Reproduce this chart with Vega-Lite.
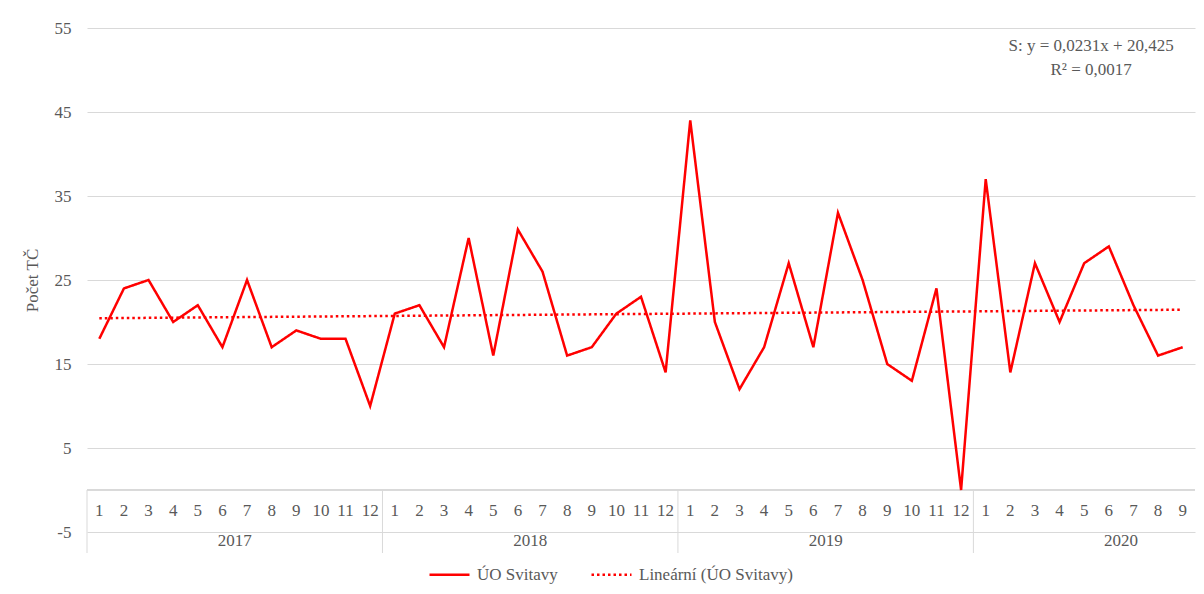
{
  "$schema": "https://vega.github.io/schema/vega-lite/v6.json",
  "width": 1108,
  "height": 504,
  "autosize": "none",
  "padding": {"left": 87, "top": 28, "right": 9, "bottom": 62},
  "background": "white",
  "config": {"view": {"stroke": null}, "font": "Liberation Serif",
    "text": {"font": "Liberation Serif"},
    "legend": {"labelFont": "Liberation Serif", "titleFont": "Liberation Serif"},
    "axis": {"labelFont": "Liberation Serif", "titleFont": "Liberation Serif"}},
  "data": {"values": [
    {"i": 1, "year": "2017", "month": "1", "value": 18},
    {"i": 2, "year": "2017", "month": "2", "value": 24},
    {"i": 3, "year": "2017", "month": "3", "value": 25},
    {"i": 4, "year": "2017", "month": "4", "value": 20},
    {"i": 5, "year": "2017", "month": "5", "value": 22},
    {"i": 6, "year": "2017", "month": "6", "value": 17},
    {"i": 7, "year": "2017", "month": "7", "value": 25},
    {"i": 8, "year": "2017", "month": "8", "value": 17},
    {"i": 9, "year": "2017", "month": "9", "value": 19},
    {"i": 10, "year": "2017", "month": "10", "value": 18},
    {"i": 11, "year": "2017", "month": "11", "value": 18},
    {"i": 12, "year": "2017", "month": "12", "value": 10},
    {"i": 13, "year": "2018", "month": "1", "value": 21},
    {"i": 14, "year": "2018", "month": "2", "value": 22},
    {"i": 15, "year": "2018", "month": "3", "value": 17},
    {"i": 16, "year": "2018", "month": "4", "value": 30},
    {"i": 17, "year": "2018", "month": "5", "value": 16},
    {"i": 18, "year": "2018", "month": "6", "value": 31},
    {"i": 19, "year": "2018", "month": "7", "value": 26},
    {"i": 20, "year": "2018", "month": "8", "value": 16},
    {"i": 21, "year": "2018", "month": "9", "value": 17},
    {"i": 22, "year": "2018", "month": "10", "value": 21},
    {"i": 23, "year": "2018", "month": "11", "value": 23},
    {"i": 24, "year": "2018", "month": "12", "value": 14},
    {"i": 25, "year": "2019", "month": "1", "value": 44},
    {"i": 26, "year": "2019", "month": "2", "value": 20},
    {"i": 27, "year": "2019", "month": "3", "value": 12},
    {"i": 28, "year": "2019", "month": "4", "value": 17},
    {"i": 29, "year": "2019", "month": "5", "value": 27},
    {"i": 30, "year": "2019", "month": "6", "value": 17},
    {"i": 31, "year": "2019", "month": "7", "value": 33},
    {"i": 32, "year": "2019", "month": "8", "value": 25},
    {"i": 33, "year": "2019", "month": "9", "value": 15},
    {"i": 34, "year": "2019", "month": "10", "value": 13},
    {"i": 35, "year": "2019", "month": "11", "value": 24},
    {"i": 36, "year": "2019", "month": "12", "value": 0},
    {"i": 37, "year": "2020", "month": "1", "value": 37},
    {"i": 38, "year": "2020", "month": "2", "value": 14},
    {"i": 39, "year": "2020", "month": "3", "value": 27},
    {"i": 40, "year": "2020", "month": "4", "value": 20},
    {"i": 41, "year": "2020", "month": "5", "value": 27},
    {"i": 42, "year": "2020", "month": "6", "value": 29},
    {"i": 43, "year": "2020", "month": "7", "value": 22},
    {"i": 44, "year": "2020", "month": "8", "value": 16},
    {"i": 45, "year": "2020", "month": "9", "value": 17}
  ]},
  "layer": [
    {
      "mark": {"type": "rule", "color": "#d9d9d9", "strokeWidth": 1},
      "encoding": {"y": {"datum": 0, "type": "quantitative", "scale": {"domain": [-5, 55], "nice": false, "zero": false}}}
    },
    {
      "transform": [{"aggregate": [{"op": "min", "field": "i", "as": "first"}], "groupby": ["year"]}],
      "mark": {"type": "rule", "color": "#d9d9d9", "strokeWidth": 1, "xOffset": -12.31, "clip": false},
      "encoding": {
        "x": {"field": "first", "type": "quantitative", "axis": null, "scale": {"domain": [0.5, 45.5], "nice": false, "zero": false}},
        "y": {"datum": 0, "type": "quantitative"},
        "y2": {"datum": -7.5}
      }
    },
    {
      "mark": {"type": "text", "fontSize": 17, "font": "Liberation Serif", "color": "#595959", "baseline": "middle", "align": "center"},
      "encoding": {
        "x": {"field": "i", "type": "quantitative", "axis": null},
        "y": {"datum": -2.5, "type": "quantitative"},
        "text": {"field": "month", "type": "nominal"}
      }
    },
    {
      "transform": [{"aggregate": [{"op": "min", "field": "i", "as": "first"}], "groupby": ["year"]}],
      "mark": {"type": "text", "fontSize": 17, "font": "Liberation Serif", "color": "#595959", "baseline": "middle", "align": "center", "dx": 135.4},
      "encoding": {
        "x": {"field": "first", "type": "quantitative", "axis": null},
        "y": {"datum": -6.13, "type": "quantitative"},
        "text": {"field": "year", "type": "nominal"}
      }
    },
    {
      "mark": {"type": "line", "color": "#ff0000", "strokeWidth": 2.5},
      "encoding": {
        "x": {"field": "i", "type": "quantitative", "axis": null},
        "y": {"field": "value", "type": "quantitative",
          "axis": {"values": [-5, 5, 15, 25, 35, 45, 55], "labelExpr": "'' + datum.value", "grid": true, "gridColor": "#d9d9d9", "gridWidth": 1, "domain": false, "ticks": false,
            "labelPadding": 16, "labelFontSize": 17, "labelColor": "#595959", "labelFont": "Liberation Serif",
            "title": "Počet TČ", "titleFontSize": 17, "titleFontWeight": "normal", "titleColor": "#595959", "titleFont": "Liberation Serif", "titlePadding": 13}},
        "strokeDash": {"datum": "ÚO Svitavy", "type": "nominal",
          "scale": {"domain": ["ÚO Svitavy", "Lineární (ÚO Svitavy)"], "range": [[1, 0], [2.5, 3]]},
          "legend": {"title": null, "orient": "none", "legendX": 341, "legendY": 525, "direction": "horizontal",
            "symbolType": "stroke", "symbolStrokeColor": "#ff0000", "symbolStrokeWidth": 2.5, "symbolSize": 1600,
            "labelFontSize": 17, "labelColor": "#595959", "labelFont": "Liberation Serif", "columnPadding": 28, "labelOffset": 6}}
      }
    },
    {
      "transform": [{"regression": "value", "on": "i", "method": "linear", "extent": [1, 45]}],
      "mark": {"type": "line", "color": "#ff0000", "strokeWidth": 2.5},
      "encoding": {
        "x": {"field": "i", "type": "quantitative", "axis": null},
        "y": {"field": "value", "type": "quantitative"},
        "strokeDash": {"datum": "Lineární (ÚO Svitavy)", "type": "nominal"}
      }
    },
    {
      "data": {"values": [{}]},
      "mark": {"type": "text", "fontSize": 17, "font": "Liberation Serif", "color": "#595959", "align": "center", "baseline": "middle", "lineHeight": 24,
        "text": ["S: y = 0,0231x + 20,425", "R² = 0,0017"]},
      "encoding": {
        "x": {"datum": 41.28, "type": "quantitative"},
        "y": {"datum": 52.86, "type": "quantitative"}
      }
    }
  ]
}
